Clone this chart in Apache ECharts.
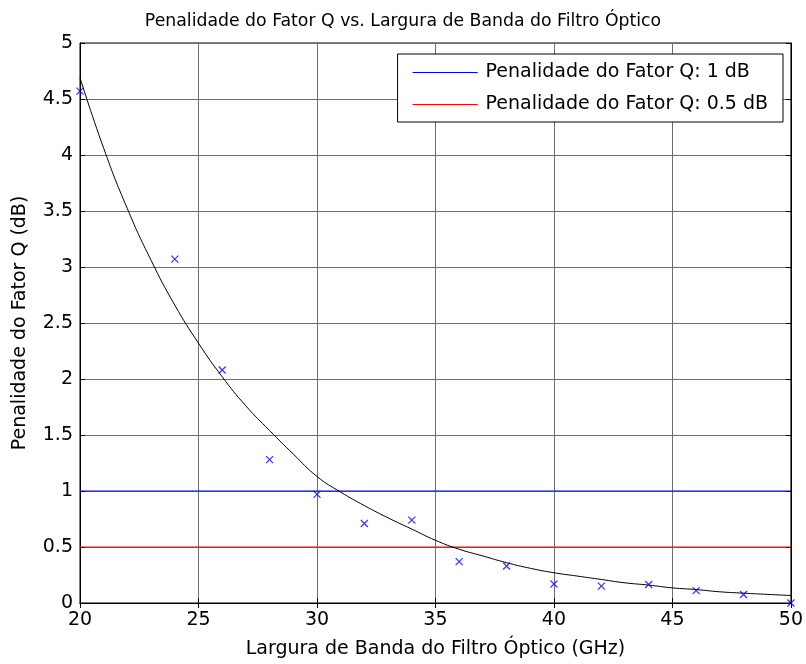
<!DOCTYPE html>
<html>
<head>
<meta charset="utf-8">
<script src="https://cdn.jsdelivr.net/npm/echarts@6/dist/echarts.min.js"></script>
<style>
  html, body { margin: 0; padding: 0; background: #fff; }
  #chart { width: 806px; height: 664px; }
</style>
</head>
<body>
<div id="chart"></div>
<script>
// Measured Q-factor penalty at each optical filter bandwidth (GHz)
const bandwidthGHz = [20, 24, 26, 28, 30, 32, 34, 36, 38, 40, 42, 44, 46, 48, 50];
const penaltyDb    = [4.57, 3.07, 2.08, 1.28, 0.97, 0.71, 0.74, 0.37, 0.33, 0.17, 0.15, 0.165, 0.11, 0.076, 0.0];

// Fitted trend curve, sampled every 1 GHz
const fitBandwidth = [20, 21, 22, 23, 24, 25, 26, 27, 28, 29, 30, 31, 32, 33, 34, 35,
                      36, 37, 38, 39, 40, 41, 42, 43, 44, 45, 46, 47, 48, 49, 50];
const fitPenalty   = [4.69, 4.06, 3.52, 3.06, 2.66, 2.32, 2.02, 1.76, 1.54, 1.33, 1.13, 0.99,
                      0.87, 0.76, 0.66, 0.56, 0.48, 0.42, 0.36, 0.31, 0.27, 0.24, 0.21, 0.18,
                      0.16, 0.135, 0.12, 0.10, 0.088, 0.077, 0.067];

// Reference penalty thresholds
const thresholdNames  = ['Penalidade do Fator Q: 1 dB', 'Penalidade do Fator Q: 0.5 dB'];
const thresholdValues = [1, 0.5];
const thresholdColors = ['#0000ff', '#ff0000'];

const xTicks = [20, 25, 30, 35, 40, 45, 50];
const yTicks = [0, 0.5, 1, 1.5, 2, 2.5, 3, 3.5, 4, 4.5, 5];

const FONT = '"DejaVu Sans", "Liberation Sans", Arial, sans-serif';
const LABEL_SIZE = 19;
const chart = echarts.init(document.getElementById('chart'), null, { renderer: 'canvas' });

const gridLine = { show: true, lineStyle: { color: '#6e6e6e', width: 1 } };
const tickIn = { show: true, inside: true, length: 5, lineStyle: { color: '#000', width: 1 } };

const thresholdSeries = thresholdNames.map((name, i) => ({
  name: name,
  type: 'line',
  color: thresholdColors[i],
  data: [[xTicks[0], thresholdValues[i]], [xTicks[xTicks.length - 1], thresholdValues[i]]],
  symbol: 'none',
  lineStyle: { color: thresholdColors[i], width: 1 },
  itemStyle: { color: thresholdColors[i] },
  silent: true,
  z: 3
}));

// Legend entries: a thin horizontal stroke in each threshold colour
const legendEntries = thresholdNames.map((name, i) => ({
  name: name,
  icon: 'rect',
  itemStyle: { color: thresholdColors[i], borderWidth: 0 },
  lineStyle: { color: thresholdColors[i], width: 1 }
}));

chart.setOption({
  animation: false,
  backgroundColor: '#fff',
  color: thresholdColors,
  title: {
    text: 'Penalidade do Fator Q vs. Largura de Banda do Filtro Óptico',
    left: 'center',
    top: 8,
    textStyle: { fontFamily: FONT, fontSize: 17.3, fontWeight: 'normal', color: '#000' }
  },
  legend: {
    data: legendEntries,
    orient: 'vertical',
    right: 23,
    top: 54,
    backgroundColor: '#fff',
    borderColor: '#000',
    borderWidth: 1,
    padding: [9, 15, 8, 15],
    itemGap: 13,
    itemWidth: 65,
    itemHeight: 1,
    textStyle: { fontFamily: FONT, fontSize: LABEL_SIZE, color: '#000', padding: [0, 0, 0, 3] }
  },
  grid: {
    left: 80, right: 13, top: 43, bottom: 61,
    show: true, borderColor: '#000', borderWidth: 1
  },
  xAxis: [{
    type: 'value', min: 20, max: 50, interval: 5,
    name: 'Largura de Banda do Filtro Óptico (GHz)',
    nameLocation: 'middle', nameGap: 37,
    nameTextStyle: { fontFamily: FONT, fontSize: LABEL_SIZE, color: '#000' },
    axisLine: { show: true, onZero: false, lineStyle: { color: '#000', width: 1 } },
    axisTick: tickIn,
    axisLabel: { fontFamily: FONT, fontSize: LABEL_SIZE, color: '#000', margin: 8 },
    splitLine: gridLine
  }, {
    type: 'value', min: 20, max: 50, interval: 5, position: 'top',
    axisLine: { show: true, lineStyle: { color: '#000' } },
    axisTick: tickIn, axisLabel: { show: false }, splitLine: { show: false }
  }],
  yAxis: [{
    type: 'value', min: 0, max: 5, interval: 0.5,
    name: 'Penalidade do Fator Q (dB)',
    nameLocation: 'middle', nameGap: 50,
    nameTextStyle: { fontFamily: FONT, fontSize: LABEL_SIZE, color: '#000' },
    axisLine: { show: true, onZero: false, lineStyle: { color: '#000', width: 1 } },
    axisTick: tickIn,
    axisLabel: { fontFamily: FONT, fontSize: LABEL_SIZE, color: '#000', margin: 7 },
    splitLine: gridLine
  }, {
    type: 'value', min: 0, max: 5, interval: 0.5, position: 'right',
    axisLine: { show: true, lineStyle: { color: '#000' } },
    axisTick: tickIn, axisLabel: { show: false }, splitLine: { show: false }
  }],
  series: [
    ...thresholdSeries,
    {
      name: 'Ajuste',
      type: 'line',
      data: fitBandwidth.map((x, i) => [x, fitPenalty[i]]),
      smooth: true,
      symbol: 'none',
      lineStyle: { color: '#000', width: 1 },
      itemStyle: { color: '#000' },
      silent: true,
      z: 4
    },
    {
      name: 'Medido',
      type: 'scatter',
      data: bandwidthGHz.map((x, i) => [x, penaltyDb[i]]),
      symbol: 'path://M0,0L10,10M10,0L0,10',
      symbolSize: 7,
      clip: false,
      itemStyle: { color: 'rgba(0,0,0,0)', borderColor: '#0000ff', borderWidth: 1.2 },
      silent: true,
      z: 5
    }
  ]
});
</script>
</body>
</html>
